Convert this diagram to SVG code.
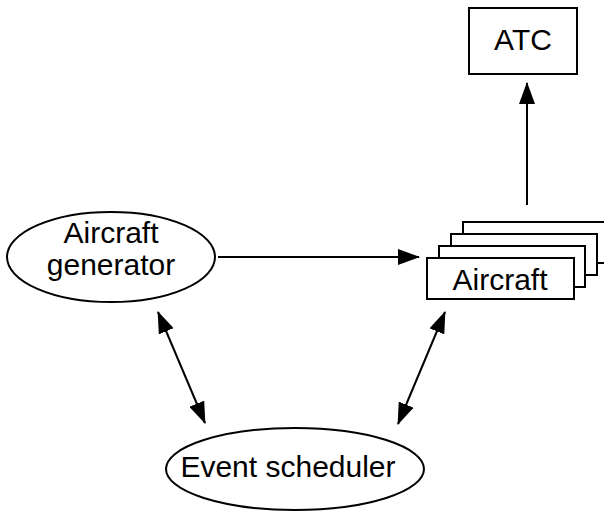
<svg xmlns="http://www.w3.org/2000/svg" width="604" height="512" viewBox="0 0 604 512">
<style>
.shape{fill:#fff;stroke:#000;stroke-width:2}
.lbl{font-family:"Liberation Sans",Arial,sans-serif;font-size:30px;fill:#000;text-anchor:middle}
.conn{stroke:#000;stroke-width:2;fill:none}
</style>
<defs>
<marker id="ah" markerUnits="userSpaceOnUse" markerWidth="22" markerHeight="16" viewBox="0 0 22 16" refX="21" refY="8" orient="auto-start-reverse">
<path d="M0,0 L22,8 L0,16 Z" fill="#000"/>
</marker>
</defs>
<rect width="604" height="512" fill="#fff"/>
<g id="atc">
<rect class="shape" x="469" y="8" width="108" height="66"/>
<text class="lbl" x="523" y="50">ATC</text>
</g>
<g id="aircraft">
<rect class="shape" x="463" y="222" width="150" height="41"/>
<rect class="shape" x="451" y="234" width="146" height="41"/>
<rect class="shape" x="439" y="246" width="146" height="41"/>
<rect class="shape" x="427" y="258" width="147" height="41"/>
<text class="lbl" x="500" y="290">Aircraft</text>
</g>
<g id="generator">
<ellipse class="shape" cx="111" cy="257" rx="104" ry="45"/>
<text class="lbl" x="111" y="243">Aircraft</text>
<text class="lbl" x="111" y="275">generator</text>
</g>
<g id="scheduler">
<ellipse class="shape" cx="295" cy="469" rx="129" ry="41"/>
<text class="lbl" x="288" y="477">Event scheduler</text>
</g>
<g id="connectors">
<line class="conn" x1="218" y1="257" x2="419" y2="257" marker-end="url(#ah)"/>
<line class="conn" x1="527" y1="205" x2="527" y2="83" marker-end="url(#ah)"/>
<line class="conn" x1="158" y1="312" x2="205" y2="423" marker-start="url(#ah)" marker-end="url(#ah)"/>
<line class="conn" x1="445" y1="312" x2="398" y2="424" marker-start="url(#ah)" marker-end="url(#ah)"/>
</g>
</svg>
